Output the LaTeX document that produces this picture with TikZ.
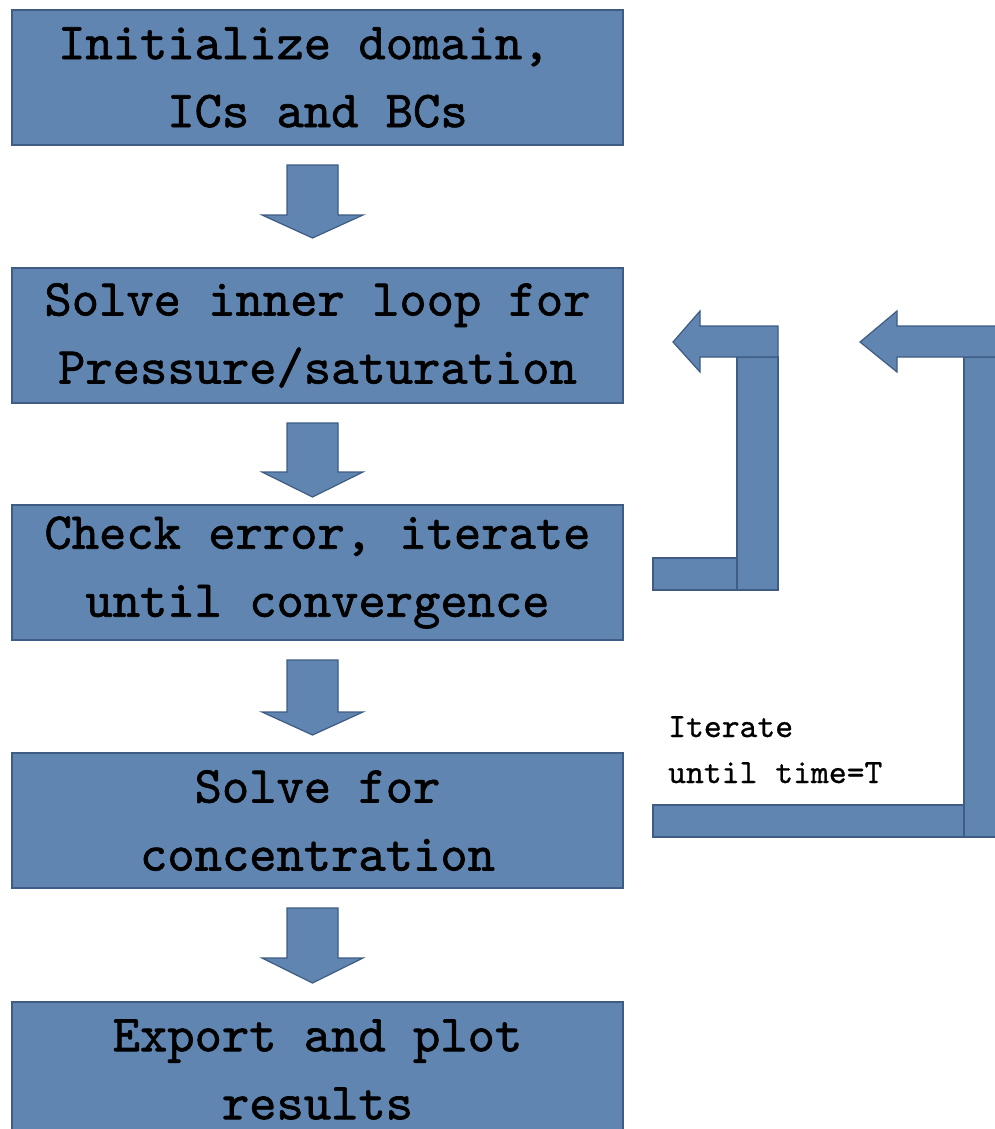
\documentclass[tikz,border=0pt]{standalone}
\usepackage{fontspec}
\newfontfamily\boxfont{lmmono10-regular}[Extension=.otf, FakeBold=1.3]
\newfontfamily\lblfont{lmmono10-regular}[Extension=.otf, FakeBold=0.8]
\definecolor{boxblue}{RGB}{95,133,176}
\definecolor{boxedge}{RGB}{62,92,132}
\begin{document}
\begin{tikzpicture}[x=1pt,y=-1pt,
  blk/.style={fill=boxblue,draw=boxedge,line width=1.2pt,line join=miter},
  stepbox/.style={blk,minimum width=611pt,minimum height=135pt,inner sep=0pt,
    align=center,text=black,font=\boxfont\fontsize{52}{68}\selectfont},
  lbl/.style={anchor=base west,inner sep=0pt,text=black,
    font=\lblfont\fontsize{34}{46}\selectfont}]
\useasboundingbox (0,0) rectangle (995,1129);
\clip (0,0) rectangle (995,1129);

% process boxes
\node[stepbox] (b1) at (317.5,77.5)  {Initialize domain,\hphantom{x}\\ICs and BCs};
\node[stepbox] (b2) at (317.5,335.5) {Solve inner loop for\\Pressure/saturation};
\node[stepbox] (b3) at (317.5,572.5) {Check error, iterate\\until convergence};
\node[stepbox] (b4) at (317.5,820.5) {Solve for\\concentration};
\node[stepbox] (b5) at (317.5,1069.5) {Export and plot\\results};

% down block arrows between boxes
\foreach \ta/\ba/\tp in {165/215/238, 423/472/497, 660/712/735, 908/958/983}{
  \draw[blk] (287,\ta) -- (338,\ta) -- (338,\ba) -- (363,\ba) -- (312.5,\tp)
     -- (262,\ba) -- (287,\ba) -- cycle;
}

% inner loop (check error -> solve inner loop)
\draw[blk] (653,558) rectangle (778,590);
\draw[blk] (737,357) rectangle (778,590);
\draw[blk] (778,326) -- (700,326) -- (700,311) -- (673,342) -- (700,372)
   -- (700,357) -- (778,357) -- cycle;

% outer loop (iterate until time = T)
\draw[blk] (653,805) rectangle (1010,837);
\draw[blk] (964,357) rectangle (1010,837);
\draw[blk] (1010,326) -- (897,326) -- (897,311) -- (860,342) -- (897,372)
   -- (897,357) -- (1010,357) -- cycle;

\node[lbl] (l1) at (668,737) {Iterate};
\node[lbl] (l2) at (668,783) {until time=T};
\end{tikzpicture}
\end{document}
